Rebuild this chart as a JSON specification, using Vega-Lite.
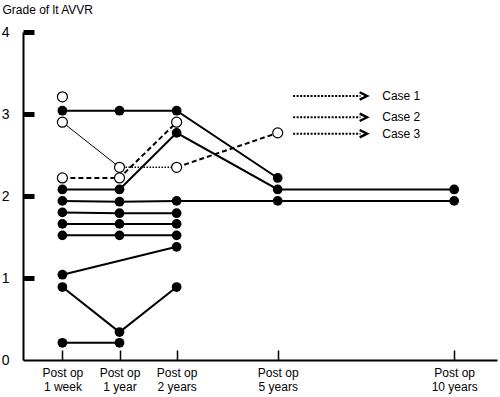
{
  "$schema": "https://vega.github.io/schema/vega-lite/v6.json",
  "width": 474,
  "height": 328,
  "autosize": {"type": "none"},
  "padding": {"left": 23, "top": 32, "right": 3, "bottom": 37},
  "config": {"font": "Liberation Sans", "view": {"stroke": null}, "axis": {"grid": false}},
  "datasets": {
    "lines": [
      {"seg": "S1", "style": "solid", "t": 1, "g": 3.04},
      {"seg": "S1", "style": "solid", "t": 2, "g": 3.04},
      {"seg": "S1", "style": "solid", "t": 3, "g": 3.04},
      {"seg": "S1", "style": "solid", "t": 4.77, "g": 2.22},
      {"seg": "S2", "style": "solid", "t": 1, "g": 2.08},
      {"seg": "S2", "style": "solid", "t": 2, "g": 2.08},
      {"seg": "S2", "style": "solid", "t": 3, "g": 2.77},
      {"seg": "S2", "style": "solid", "t": 4.77, "g": 2.08},
      {"seg": "S2", "style": "solid", "t": 7.86, "g": 2.08},
      {"seg": "S3", "style": "solid", "t": 1, "g": 1.94},
      {"seg": "S3", "style": "solid", "t": 2, "g": 1.93},
      {"seg": "S3", "style": "solid", "t": 3, "g": 1.94},
      {"seg": "S3", "style": "solid", "t": 4.77, "g": 1.94},
      {"seg": "S3", "style": "solid", "t": 7.86, "g": 1.94},
      {"seg": "S4", "style": "solid", "t": 1, "g": 1.8},
      {"seg": "S4", "style": "solid", "t": 2, "g": 1.79},
      {"seg": "S4", "style": "solid", "t": 3, "g": 1.79},
      {"seg": "S5", "style": "solid", "t": 1, "g": 1.66},
      {"seg": "S5", "style": "solid", "t": 2, "g": 1.66},
      {"seg": "S5", "style": "solid", "t": 3, "g": 1.66},
      {"seg": "S6", "style": "solid", "t": 1, "g": 1.52},
      {"seg": "S6", "style": "solid", "t": 2, "g": 1.52},
      {"seg": "S6", "style": "solid", "t": 3, "g": 1.52},
      {"seg": "S7", "style": "solid", "t": 1, "g": 1.04},
      {"seg": "S7", "style": "solid", "t": 3, "g": 1.38},
      {"seg": "S8", "style": "solid", "t": 1, "g": 0.89},
      {"seg": "S8", "style": "solid", "t": 2, "g": 0.34},
      {"seg": "S8", "style": "solid", "t": 3, "g": 0.89},
      {"seg": "S9", "style": "solid", "t": 1, "g": 0.21},
      {"seg": "S9", "style": "solid", "t": 2, "g": 0.21},
      {"seg": "T1", "style": "thin", "t": 1, "g": 2.9},
      {"seg": "T1", "style": "thin", "t": 2, "g": 2.35},
      {"seg": "D1", "style": "dotted", "t": 2, "g": 2.35},
      {"seg": "D1", "style": "dotted", "t": 3, "g": 2.35},
      {"seg": "D2", "style": "dashed", "t": 3, "g": 2.35},
      {"seg": "D2", "style": "dashed", "t": 4.77, "g": 2.77},
      {"seg": "D3", "style": "dashed", "t": 1, "g": 2.22},
      {"seg": "D3", "style": "dashed", "t": 2, "g": 2.22},
      {"seg": "D3", "style": "dashed", "t": 3, "g": 2.9}
    ],
    "open": [
      {"t": 1, "g": 3.21}, {"t": 1, "g": 2.9}, {"t": 1, "g": 2.22},
      {"t": 2, "g": 2.35}, {"t": 2, "g": 2.22},
      {"t": 3, "g": 2.9}, {"t": 3, "g": 2.35},
      {"t": 4.77, "g": 2.77}
    ],
    "filled": [
      {"t": 1, "g": 3.04}, {"t": 1, "g": 2.08}, {"t": 1, "g": 1.94}, {"t": 1, "g": 1.8}, {"t": 1, "g": 1.66}, {"t": 1, "g": 1.52}, {"t": 1, "g": 1.04}, {"t": 1, "g": 0.89}, {"t": 1, "g": 0.21},
      {"t": 2, "g": 3.04}, {"t": 2, "g": 2.08}, {"t": 2, "g": 1.93}, {"t": 2, "g": 1.79}, {"t": 2, "g": 1.66}, {"t": 2, "g": 1.52}, {"t": 2, "g": 0.34}, {"t": 2, "g": 0.21},
      {"t": 3, "g": 3.04}, {"t": 3, "g": 2.77}, {"t": 3, "g": 1.94}, {"t": 3, "g": 1.79}, {"t": 3, "g": 1.66}, {"t": 3, "g": 1.52}, {"t": 3, "g": 1.38}, {"t": 3, "g": 0.89},
      {"t": 4.77, "g": 2.22}, {"t": 4.77, "g": 2.08}, {"t": 4.77, "g": 1.94},
      {"t": 7.86, "g": 2.08}, {"t": 7.86, "g": 1.94}
    ],
    "cases": [
      {"label": "Case 1", "x1": 5.04, "x2": 6.22, "xh": 6.27, "xt": 6.6, "g": 3.22},
      {"label": "Case 2", "x1": 5.04, "x2": 6.22, "xh": 6.27, "xt": 6.6, "g": 2.96},
      {"label": "Case 3", "x1": 5.04, "x2": 6.22, "xh": 6.27, "xt": 6.6, "g": 2.76}
    ]
  },
  "layer": [
    {
      "data": {"name": "lines"},
      "transform": [{"filter": "datum.style == 'solid'"}],
      "mark": {"type": "line", "color": "black", "strokeWidth": 2},
      "encoding": {
        "x": {
          "field": "t", "type": "quantitative",
          "scale": {"domain": [0.31, 8.61], "nice": false, "zero": false},
          "axis": {
            "title": null,
            "values": [1, 2, 3, 4.77, 7.86],
            "labelExpr": "datum.value == 1 ? ['Post op', '1 week'] : datum.value == 2 ? ['Post op', '1 year'] : datum.value == 3 ? ['Post op', '2 years'] : datum.value < 6 ? ['Post op', '5 years'] : ['Post op', '10 years']",
            "domainColor": "black", "domainWidth": 2,
            "tickColor": "black", "tickWidth": 1.5, "tickSize": -10,
            "labelColor": "black", "labelFontSize": 12, "labelLineHeight": 14,
            "labelPadding": 17, "labelFlush": false, "labelOverlap": false
          }
        },
        "y": {
          "field": "g", "type": "quantitative",
          "scale": {"domain": [0, 4], "nice": false},
          "axis": {
            "title": "Grade of lt AVVR",
            "titleAngle": 0, "titleAlign": "left", "titleBaseline": "alphabetic",
            "titleX": -21, "titleY": -19, "titleFontSize": 12, "titleFontWeight": "normal", "titleColor": "black",
            "values": [0, 1, 2, 3, 4], "format": "d",
            "domainColor": "black", "domainWidth": 2,
            "tickColor": {"condition": {"test": "datum.value === 0", "value": "transparent"}, "value": "black"},
            "tickWidth": 5, "tickSize": -11,
            "labelColor": "black", "labelFontSize": 14, "labelPadding": 25
          }
        },
        "detail": {"field": "seg"}
      }
    },
    {
      "data": {"name": "lines"},
      "transform": [{"filter": "datum.style == 'thin'"}],
      "mark": {"type": "line", "color": "black", "strokeWidth": 1},
      "encoding": {
        "x": {"field": "t", "type": "quantitative"},
        "y": {"field": "g", "type": "quantitative"},
        "detail": {"field": "seg"}
      }
    },
    {
      "data": {"name": "lines"},
      "transform": [{"filter": "datum.style == 'dotted'"}],
      "mark": {"type": "line", "color": "black", "strokeWidth": 1.5, "strokeDash": [1.5, 1.5]},
      "encoding": {
        "x": {"field": "t", "type": "quantitative"},
        "y": {"field": "g", "type": "quantitative"},
        "detail": {"field": "seg"}
      }
    },
    {
      "data": {"name": "lines"},
      "transform": [{"filter": "datum.style == 'dashed'"}],
      "mark": {"type": "line", "color": "black", "strokeWidth": 2, "strokeDash": [5, 3]},
      "encoding": {
        "x": {"field": "t", "type": "quantitative"},
        "y": {"field": "g", "type": "quantitative"},
        "detail": {"field": "seg"}
      }
    },
    {
      "data": {"name": "open"},
      "mark": {"type": "circle", "fill": "white", "stroke": "black", "strokeWidth": 1.2, "size": 100, "opacity": 1},
      "encoding": {
        "x": {"field": "t", "type": "quantitative"},
        "y": {"field": "g", "type": "quantitative"}
      }
    },
    {
      "data": {"name": "filled"},
      "mark": {"type": "circle", "color": "black", "size": 95, "opacity": 1},
      "encoding": {
        "x": {"field": "t", "type": "quantitative"},
        "y": {"field": "g", "type": "quantitative"}
      }
    },
    {
      "data": {"name": "cases"},
      "mark": {"type": "rule", "color": "black", "strokeWidth": 2, "strokeDash": [2, 1.5]},
      "encoding": {
        "x": {"field": "x1", "type": "quantitative"},
        "x2": {"field": "x2"},
        "y": {"field": "g", "type": "quantitative"}
      }
    },
    {
      "data": {"name": "cases"},
      "mark": {"type": "point", "shape": "M-1,-1L1,0L-1,1", "filled": false, "color": "black", "strokeWidth": 2.4, "size": 55, "opacity": 1},
      "encoding": {
        "x": {"field": "xh", "type": "quantitative"},
        "y": {"field": "g", "type": "quantitative"}
      }
    },
    {
      "data": {"name": "cases"},
      "mark": {"type": "text", "align": "left", "baseline": "middle", "fontSize": 12, "color": "black"},
      "encoding": {
        "x": {"field": "xt", "type": "quantitative"},
        "y": {"field": "g", "type": "quantitative"},
        "text": {"field": "label"}
      }
    }
  ]
}
